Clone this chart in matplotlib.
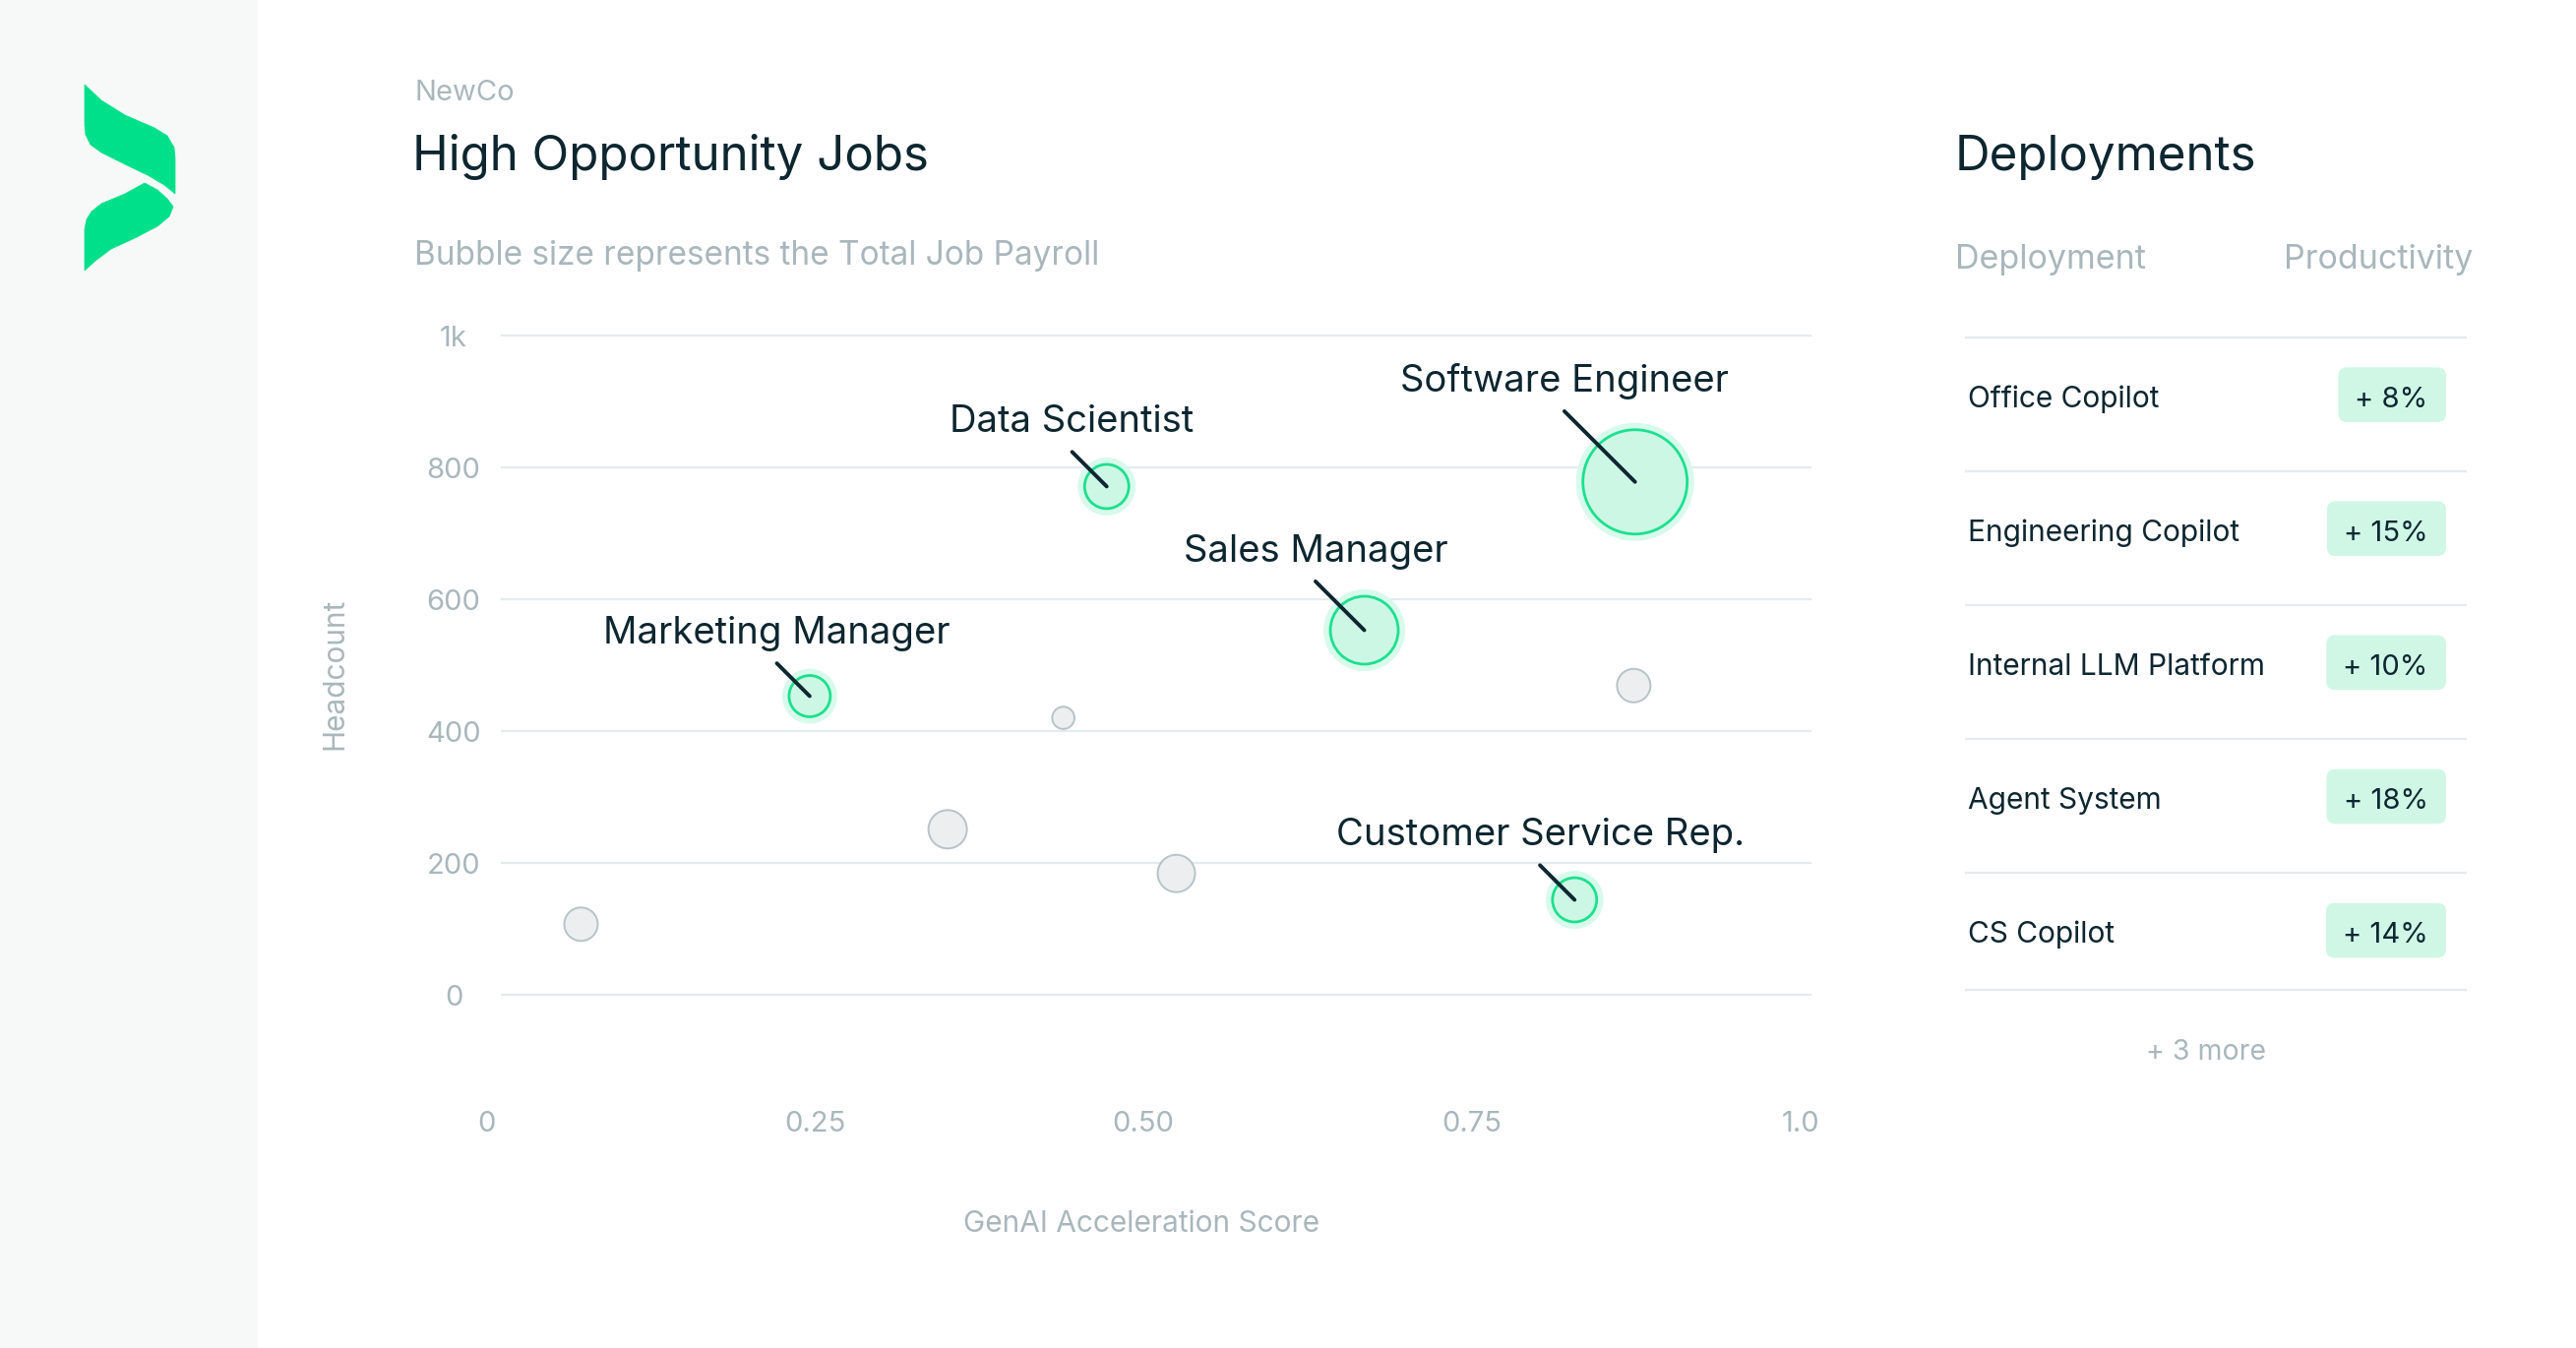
import matplotlib.pyplot as plt
import numpy as np
from matplotlib.patches import Polygon, Rectangle, FancyBboxPatch

plt.rcParams['font.family'] = ['Inter', 'DejaVu Sans']

# --- data -------------------------------------------------------------
job_names = ["", "Marketing Manager", "", "", "Data Scientist", "",
             "Sales Manager", "Customer Service Rep.", "Software Engineer", ""]
genai_score = [0.072, 0.246, 0.351, 0.439, 0.472, 0.525, 0.668, 0.828, 0.874, 0.873]
headcount = [107, 453, 251, 420, 771, 184, 553, 144, 778, 469]
payroll = [9.0, 13.4, 11.7, 4.2, 15.3, 11.1, 35.0, 15.3, 81.0, 9.0]  # total job payroll, $M

x_ticks = [0, 0.25, 0.5, 0.75, 1.0]
x_tick_labels = ["0", "0.25", "0.50", "0.75", "1.0"]
y_ticks = [0, 200, 400, 600, 800, 1000]
y_tick_labels = ["0", "200", "400", "600", "800", "1k"]

deployments = ["Office Copilot", "Engineering Copilot", "Internal LLM Platform",
               "Agent System", "CS Copilot"]
productivity = [8, 15, 10, 18, 14]
more_count = 3

# --- style --------------------------------------------------------------
W, H, DPI = 2618, 1370, 100
PT = 72 / DPI
DARK = "#0d2630"
GRAY = "#a9b7bc"
GRID = "#e3ebed"
GREEN = "#1de08e"
MINT = "#cdf7e5"
HALO = "#d8faec"
GRAY_FILL = "#eceef0"
GRAY_EDGE = "#b8c3c7"
BADGE = "#d0f7e6"
LOGO = "#00e08a"

fig = plt.figure(figsize=(W / DPI, H / DPI), dpi=DPI)
fig.patch.set_facecolor("white")

# background layer in pixel coordinates (y down)
bg = fig.add_axes([0, 0, 1, 1], zorder=0)
bg.set_xlim(0, W)
bg.set_ylim(H, 0)
bg.axis("off")
bg.add_patch(Rectangle((0, 0), 262, H, color="#f7f8f8", lw=0))

# logo
logo_top = [(86, 86), (103, 102), (127, 117), (157, 130), (170, 138), (177, 150),
            (178, 160), (178, 197), (167, 188), (150, 178), (127, 167), (103, 155),
            (92, 147), (87, 137), (86, 127)]
logo_bot = [(147, 186), (160, 193), (170, 202), (176, 210), (172, 220), (160, 230),
            (137, 242), (113, 253), (97, 265), (86, 275), (86, 233), (88, 223),
            (93, 215), (103, 207), (127, 197)]
bg.add_patch(Polygon(logo_top, closed=True, fc=LOGO, ec=LOGO, lw=0.5))
bg.add_patch(Polygon(logo_bot, closed=True, fc=LOGO, ec=LOGO, lw=0.5))

# headings
bg.text(421, 101.7, "NewCo", fontsize=21, color=GRAY, va="baseline")
bg.text(419, 172.7, "High Opportunity Jobs", fontsize=35.5, color=DARK, va="baseline")
bg.text(421, 269.3, "Bubble size represents the Total Job Payroll", fontsize=24,
        color=GRAY, va="baseline")

# --- bubble chart -------------------------------------------------------
x0_px, x1_px, y0_px, y1_px = 494.3, 1830, 1011, 341
ax = fig.add_axes([x0_px / W, 1 - y0_px / H, (x1_px - x0_px) / W, (y0_px - y1_px) / H],
                  zorder=2)
ax.patch.set_alpha(0)
ax.set_xlim(0, 1)
ax.set_ylim(0, 1000)
for s in ax.spines.values():
    s.set_visible(False)
ax.set_xticks(x_ticks, x_tick_labels)
ax.set_yticks(y_ticks, y_tick_labels)
ax.tick_params(length=0, colors=GRAY, labelsize=21)
ax.tick_params(axis="x", pad=85)
ax.tick_params(axis="y", pad=24)
for t in ax.get_yticklabels():
    t.set_ha("center")

gx0 = (510 - x0_px) / (x1_px - x0_px)
gx1 = (1840 - x0_px) / (x1_px - x0_px)
for yv in y_ticks:
    ax.axhline(yv, xmin=gx0, xmax=gx1, color=GRID, lw=1.6, zorder=1, clip_on=False)

x = np.array(genai_score)
y = np.array(headcount)
r_px = 6 * np.sqrt(np.array(payroll))
s_main = (2 * (r_px - 1) * PT) ** 2
s_halo = (2 * (r_px + 6) * PT) ** 2
hl = np.array([n != "" for n in job_names])

ax.scatter(x[~hl], y[~hl], s=s_main[~hl], c=GRAY_FILL, edgecolors=GRAY_EDGE,
           linewidths=1.4, zorder=3, clip_on=False)
ax.scatter(x[hl], y[hl], s=s_halo[hl], c=HALO, linewidths=0, zorder=3, clip_on=False)
ax.scatter(x[hl], y[hl], s=s_main[hl], c=MINT, edgecolors=GREEN,
           linewidths=2.0, zorder=4, clip_on=False)

for xi, yi, ri, name in zip(x, y, r_px, job_names):
    if not name:
        continue
    d = (1.2 * ri + 7) * PT
    ax.annotate("", xy=(xi, yi), xytext=(-d, d), textcoords="offset points",
                arrowprops=dict(arrowstyle="-", color=DARK, lw=2.8, shrinkA=0,
                                shrinkB=0, capstyle="round"), zorder=5)
    ax.annotate(name, xy=(xi, yi), xytext=(-d, d + 14.5), textcoords="offset points",
                ha="center", va="baseline", fontsize=27.5, color=DARK, zorder=5)

bg.text(1160, 1251.7, "GenAI Acceleration Score", fontsize=21.5, color=GRAY,
        ha="center", va="baseline")
bg.text(340.6, 684.5, "Headcount", fontsize=21.5, color=GRAY, rotation=90,
        ha="center", va="center")

# --- deployments table --------------------------------------------------
bg.text(1987, 172.7, "Deployments", fontsize=35.5, color=DARK, va="baseline")
bg.text(1987, 273.3, "Deployment", fontsize=24.5, color=GRAY, va="baseline")
bg.text(2321, 273.3, "Productivity", fontsize=24.5, color=GRAY, va="baseline")

badges = []
base = 414
for i, (name, p) in enumerate(zip(deployments, productivity)):
    base = 414 + 136.1 * i
    bg.plot([1998, 2506], [base - 71.3] * 2, color=GRID, lw=1.6)
    bg.text(1999.6, base, name, fontsize=21.5, color=DARK, va="baseline")
    t = bg.text(2467.5, base, f"+ {p}%", fontsize=21, color=DARK, ha="right",
                va="baseline", zorder=3)
    badges.append((t, base))
bg.plot([1998, 2506], [base + 47.7] * 2, color=GRID, lw=1.6)
bg.text(2241.6, base + 118.4, f"+ {more_count} more", fontsize=20.5, color=GRAY,
        ha="center", va="baseline")

fig.canvas.draw()
for t, b in badges:
    bb = t.get_window_extent()
    left = bb.x0 - 17
    bg.add_patch(FancyBboxPatch((left, b - 40.7), 2486 - left, 55.7,
                                boxstyle="round,pad=0,rounding_size=9",
                                fc=BADGE, ec="none", zorder=2))

fig.savefig("out.png", dpi=DPI)
